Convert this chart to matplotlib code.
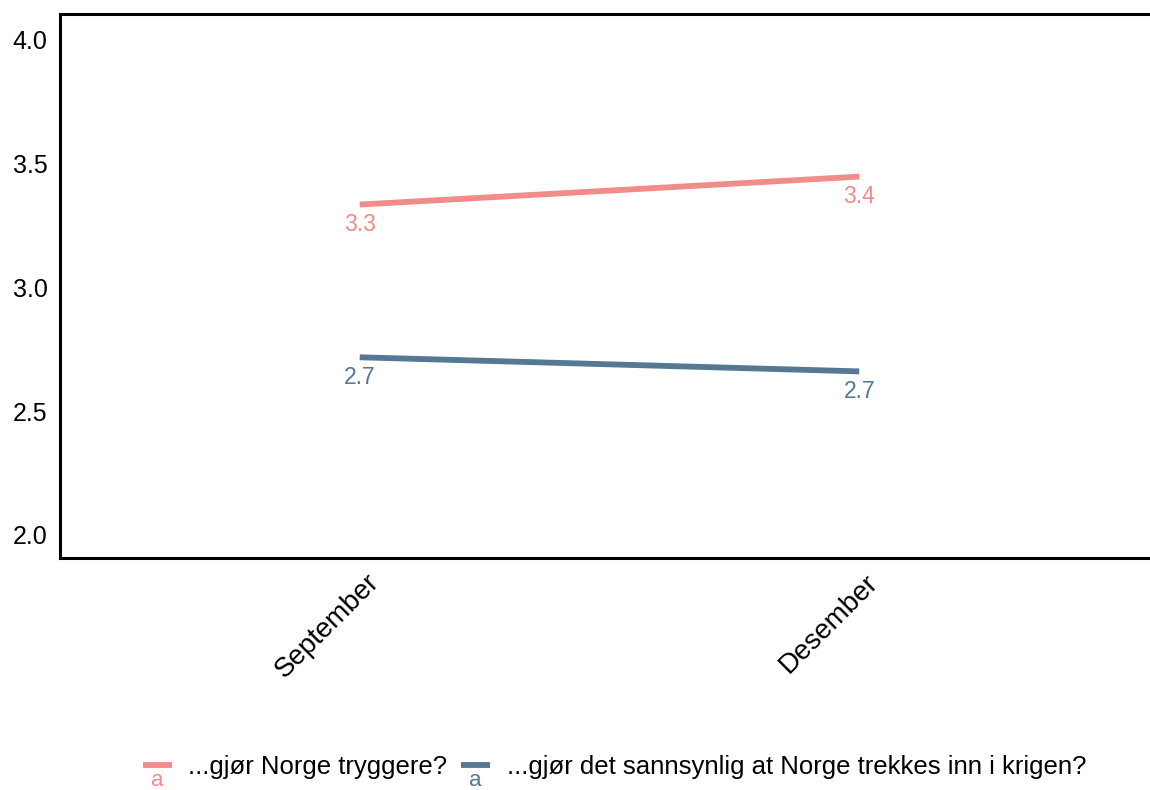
import matplotlib
matplotlib.use("Agg")
import matplotlib.pyplot as plt
from matplotlib.lines import Line2D
from matplotlib.transforms import ScaledTranslation

plt.rcParams['font.family'] = ['Liberation Sans', 'DejaVu Sans']

months = ["September", "Desember"]
series_names = ["...gjør Norge tryggere?", "...gjør det sannsynlig at Norge trekkes inn i krigen?"]
safer = [3.335, 3.448]
war = [2.718, 2.661]
yticks = [2.0, 2.5, 3.0, 3.5, 4.0]

colors = ["#F08C8A", "#557893"]
values = [safer, war]

W, H = 1150, 790
fig = plt.figure(figsize=(W / 100, H / 100), dpi=100)
ax = fig.add_axes([60 / W, 1 - 558 / H, (1159 - 60) / W, (558 - 14) / H])

x = list(range(len(months)))
for vals, c in zip(values, colors):
    ax.plot(x, vals, color=c, lw=4.2, solid_capstyle='butt')
    for xi, v in zip(x, vals):
        ax.annotate(f"{v:.1f}", (xi, v), xytext=(0, -6), textcoords='offset points',
                    ha='center', va='top', color=c, fontsize=16.5)

ax.set_xlim(-0.6, 1.6)
ax.set_ylim(1.907, 4.105)
ax.set_yticks(yticks)
ax.set_yticklabels([f"{t:.1f}" for t in yticks], fontsize=18)
ax.set_xticks(x)
ax.set_xticklabels(months, fontsize=20, rotation=45, ha='right', va='top', rotation_mode='anchor')
ax.tick_params(axis='both', length=0)
ax.tick_params(axis='y', pad=9)
ax.tick_params(axis='x', pad=8)
shift = ScaledTranslation(6 / 100, 0, fig.dpi_scale_trans)
for lab in ax.get_xticklabels():
    lab.set_transform(lab.get_transform() + shift)
for s in ['left', 'bottom', 'top']:
    ax.spines[s].set_linewidth(2.2)
    ax.spines[s].set_color('black')
ax.spines['right'].set_visible(False)

# legend drawn manually (ggplot style keys with text glyph)
key_x = [143, 461]
text_x = [188, 507]
ky = 765
for kx, tx, c, name in zip(key_x, text_x, colors, series_names):
    fig.add_artist(Line2D([kx / W, (kx + 29) / W], [1 - ky / H, 1 - ky / H], color=c, lw=4.2,
                          solid_capstyle='butt'))
    fig.text((kx + 14.5) / W, 1 - 781 / H, "a", color=c, fontsize=16, ha='center', va='center')
    fig.text(tx / W, 1 - 767 / H, name, color='black', fontsize=18.5, ha='left', va='center')

fig.savefig("out.png", dpi=100)
